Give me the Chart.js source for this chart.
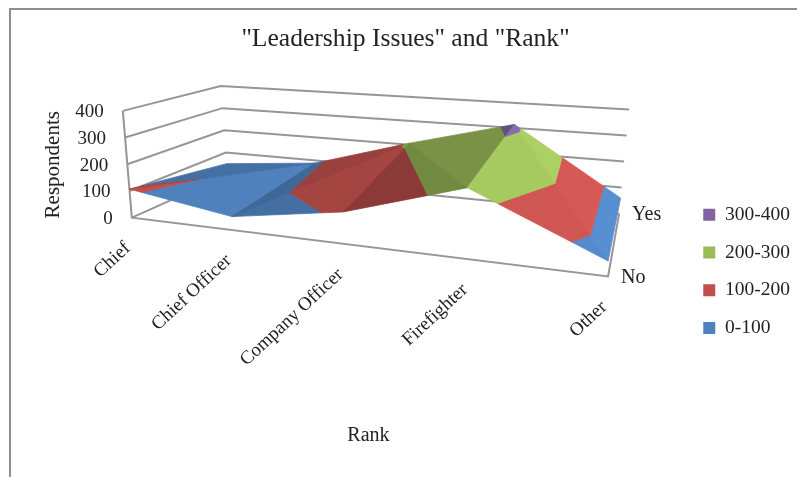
<!DOCTYPE html>
<html>
<head>
<meta charset="utf-8">
<title>Leadership Issues and Rank</title>
<script src="https://cdn.jsdelivr.net/npm/chart.js@4/dist/chart.umd.min.js"></script>
<style>
    html, body { margin: 0; height: 100%; overflow: hidden; background: #fff; }
    #frame {
        position: absolute; left: 9px; top: 8px;
        border-left: 2px solid #8e8e8e; border-top: 2px solid #8e8e8e;
    }
    canvas { display: block; }
</style>
</head>
<body>
<div id="frame"><canvas id="surfaceChart" width="792" height="467"></canvas></div>
<script>
// ===========================
// Data
// ===========================
const ranks = ["Chief", "Chief Officer", "Company Officer", "Firefighter", "Other"];
const answers = ["No", "Yes"];
const noValues = [107, 49, 112, 241, 50];
const yesValues = [50, 88, 207, 314, 60];
const valueTicks = [0, 100, 200, 300, 400];
const bandLabels = ["300-400", "200-300", "100-200", "0-100"];
const bandColors = ["#8064A2", "#9BBB59", "#C0504D", "#4F81BD"];

// Brightness of each facet, two per rank interval
const facetShades = [0.87, 1.0, 0.8, 0.86, 0.73, 0.78, 1.08, 1.11];
// true: the interval folds from No(i) to Yes(i+1), false: from Yes(i) to No(i+1)
const foldsForward = [true, true, false, false];

const FONT = '"Liberation Serif", serif';
const INK = "#222222";
const WALL = "#969696";

// ===========================
// 3D box projection, page pixels
// ===========================
const floor = {
    frontLeft: [131, 218], frontRight: [608, 277],
    backLeft: [227, 175], backRight: [619, 214]
};
const risePer100 = {
    frontLeft: [-2.25, -26.75], frontRight: [0, -31],
    backLeft: [-1.75, -22.25], backRight: [2.5, -26.1]
};

function bilinear(c, s, t, i) {
    const front = c.frontLeft[i] + (c.frontRight[i] - c.frontLeft[i]) * s;
    const back = c.backLeft[i] + (c.backRight[i] - c.backLeft[i]) * s;
    return front + (back - front) * t;
}

// u along ranks (0..1), t from No to Yes (0..1), value up
function project(u, t, value) {
    const a = 0.807 + 0.059 * t;           // perspective squeeze along the rank axis
    const s = a * u / (1 + (a - 1) * u);
    return {
        x: bilinear(floor, s, t, 0) + bilinear(risePer100, s, t, 0) * value / 100,
        y: bilinear(floor, s, t, 1) + bilinear(risePer100, s, t, 1) * value / 100,
        value: value
    };
}

function surfacePoint(i, t) {
    const value = t === 0 ? noValues[i] : yesValues[i];
    return project(i / (ranks.length - 1), t, value);
}

// Cut a polygon down to the part between two values
function clipAbove(poly, limit, sign) {
    const out = [];
    poly.forEach((p, i) => {
        const q = poly[(i + 1) % poly.length];
        const pIn = sign * (p.value - limit) >= 0;
        const qIn = sign * (q.value - limit) >= 0;
        if (pIn) out.push(p);
        if (pIn !== qIn) {
            const k = (limit - p.value) / (q.value - p.value);
            out.push({ x: p.x + (q.x - p.x) * k, y: p.y + (q.y - p.y) * k, value: limit });
        }
    });
    return out;
}

function shade(hex, factor) {
    const n = parseInt(hex.slice(1), 16);
    const c = [n >> 16, (n >> 8) & 255, n & 255].map(v => Math.min(255, Math.round(v * factor)));
    return `rgb(${c[0]},${c[1]},${c[2]})`;
}

// ===========================
// Datasets
// ===========================
function lineDataset(points) {
    return {
        data: points, showLine: true, fill: false, tension: 0, pointRadius: 0,
        borderColor: WALL, borderWidth: 2, order: 100, clip: false
    };
}

function buildDatasets() {
    const datasets = [];

    // Empty series, they only feed the legend
    bandLabels.forEach((label, b) => {
        datasets.push({
            label: label, data: [], showLine: false, pointRadius: 0,
            backgroundColor: bandColors[b], borderColor: bandColors[b], borderWidth: 0
        });
    });

    // Surface, one polygon per facet and value band
    for (let i = 0; i < ranks.length - 1; i++) {
        const a = surfacePoint(i, 0), b = surfacePoint(i + 1, 0);
        const c = surfacePoint(i + 1, 1), d = surfacePoint(i, 1);
        const facets = foldsForward[i] ? [[a, c, d], [a, b, c]] : [[a, b, d], [b, c, d]];

        facets.forEach((facet, f) => {
            bandColors.forEach((color, band) => {
                const lo = valueTicks[bandColors.length - 1 - band];
                const hi = valueTicks[bandColors.length - band];
                const poly = clipAbove(clipAbove(facet, lo, 1), hi, -1);
                if (poly.length < 3) return;
                const fillColor = shade(color, facetShades[i * 2 + f]);
                datasets.push({
                    data: poly.map(p => ({ x: p.x, y: p.y })).concat({ x: poly[0].x, y: poly[0].y }),
                    showLine: true, fill: "shape", tension: 0, pointRadius: 0,
                    backgroundColor: fillColor, borderColor: fillColor, borderWidth: 0.8,
                    order: 50 - i, clip: false
                });
            });
        });
    }

    // Walls and floor of the box
    valueTicks.forEach(v => {
        if (v > 0) {
            datasets.push(lineDataset([project(0, 0, v), project(0, 1, v), project(1, 1, v)]));
        }
    });
    datasets.push(lineDataset([project(0, 0, 400), project(0, 0, 0), project(1, 0, 0), project(1, 1, 0)]));
    datasets.push(lineDataset([project(0, 0, 0), project(0, 1, 0), project(1, 1, 0)]));
    return datasets;
}

// ===========================
// Axis text, placed through the chart scales
// ===========================
const axisText = {
    id: "axisText",
    afterDatasetsDraw(chart) {
        const { ctx, scales } = chart;
        const put = (text, p, dx, dy, align, size, angle) => {
            ctx.save();
            ctx.translate(scales.x.getPixelForValue(p.x) + dx, scales.y.getPixelForValue(p.y) + dy);
            ctx.rotate((angle || 0) * Math.PI / 180);
            ctx.font = `${size}px ${FONT}`;
            ctx.fillStyle = INK;
            ctx.textAlign = align;
            ctx.textBaseline = "middle";
            ctx.fillText(text, 0, 0);
            ctx.restore();
        };

        valueTicks.forEach(v => put(String(v), project(0, 0, v), -19, 1.5, "right", 19));
        ranks.forEach((rank, i) => {
            put(rank, project(i / (ranks.length - 1), 0, 0), -4, 28, "right", 19, -43);
        });
        answers.forEach((answer, t) => put(answer, project(1, t, 0), 13, 1, "left", 20));

        put("Respondents", { x: 53, y: 165 }, 0, 0, "center", 21, -90);
        put("Rank", { x: 368, y: 437 }, 0, 0, "center", 20);
    }
};

// ===========================
// Chart
// ===========================
const surfaceChart = new Chart(document.getElementById("surfaceChart"), {
    type: "scatter",
    data: { datasets: buildDatasets() },
    plugins: [axisText],
    options: {
        responsive: false,
        animation: false,
        events: [],
        layout: { padding: { right: 3 } },
        scales: {
            x: { type: "linear", display: false, min: 0, max: 797 },
            y: { type: "linear", display: false, reverse: true, min: 0, max: 477 }
        },
        plugins: {
            tooltip: { enabled: false },
            title: {
                display: true,
                text: '"Leadership Issues" and "Rank"',
                color: INK,
                font: { family: FONT, size: 25.6, weight: "normal" },
                padding: { top: 14, bottom: 12 }
            },
            legend: {
                position: "right",
                fullSize: false,
                labels: {
                    color: INK,
                    font: { family: FONT, size: 19.5 },
                    boxWidth: 12,
                    boxHeight: 12,
                    padding: 18.2,
                    filter: item => item.text !== undefined && bandLabels.includes(item.text)
                }
            }
        }
    }
});

// Line the scale units up with page pixels (canvas sits 11,10 into the page)
const area = surfaceChart.chartArea;
surfaceChart.options.scales.x.min = area.left + 11;
surfaceChart.options.scales.x.max = area.right + 11;
surfaceChart.options.scales.y.min = area.top + 10;
surfaceChart.options.scales.y.max = area.bottom + 10;
surfaceChart.update("none");
</script>
</body>
</html>
